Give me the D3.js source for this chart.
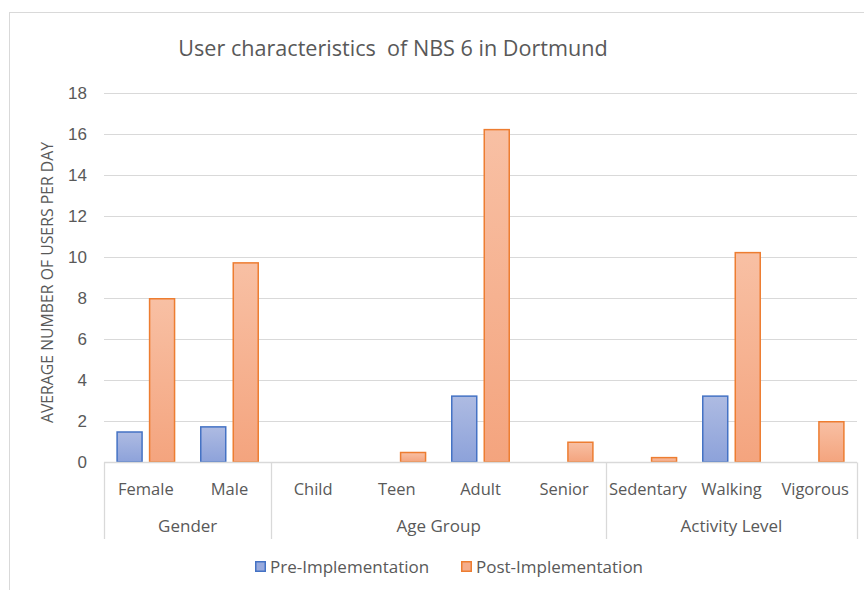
<!DOCTYPE html>
<html>
<head>
<meta charset="utf-8">
<script src="https://cdn.jsdelivr.net/npm/d3@7"></script>
<style>
  body { margin: 0; background: #fff; }
  svg { font-family: "Open Sans", "Noto Sans", sans-serif; }
</style>
</head>
<body>
<div id="chart"></div>
<script>
// Chart values
const groups = ["Gender", "Age Group", "Activity Level"];
const groupSizes = [2, 4, 3];
const categories = ["Female", "Male", "Child", "Teen", "Adult", "Senior", "Sedentary", "Walking", "Vigorous"];
const seriesNames = ["Pre-Implementation", "Post-Implementation"];
const preValues = [1.5, 1.75, 0, 0, 3.25, 0, 0, 3.25, 0];
const postValues = [8, 9.75, 0, 0.5, 16.25, 1, 0.25, 10.25, 2];
const yTicks = [0, 2, 4, 6, 8, 10, 12, 14, 16, 18];

const width = 864, height = 590;
const plot = { left: 104, right: 857, top: 93, bottom: 462 };

const svg = d3.select("#chart").append("svg")
  .attr("width", width)
  .attr("height", height);

// gradients like the office chart fills
const defs = svg.append("defs");
const grads = [
  { id: "gPre", top: "#aebbe2", bottom: "#8da2da" },
  { id: "gPost", top: "#f8c0a4", bottom: "#f4a47e" }
];
grads.forEach(g => {
  const lg = defs.append("linearGradient").attr("id", g.id)
    .attr("x1", 0).attr("y1", 0).attr("x2", 0).attr("y2", 1);
  lg.append("stop").attr("offset", "0%").attr("stop-color", g.top);
  lg.append("stop").attr("offset", "100%").attr("stop-color", g.bottom);
});
const fills = ["url(#gPre)", "url(#gPost)"];
const strokes = ["#4472c4", "#ed7d31"];
const legendFills = ["#98aadd", "#f5ad8b"];

// outer frame (cut off at right and bottom in the reference)
svg.append("rect")
  .attr("x", 9.5).attr("y", 12.5)
  .attr("width", 900).attr("height", 620)
  .attr("fill", "none").attr("stroke", "#d9d9d9");

// title
svg.append("text")
  .attr("x", 393).attr("y", 56)
  .attr("text-anchor", "middle")
  .attr("fill", "#595959")
  .style("font-size", "21.6px")
  .style("white-space", "pre")
  .text("User characteristics  of NBS 6 in Dortmund");

// scales
const y = d3.scaleLinear().domain([0, 18]).range([plot.bottom, plot.top]);
const x0 = d3.scaleBand().domain(categories).range([plot.left, plot.right]);
const x1 = d3.scaleBand().domain(seriesNames).range([0, x0.bandwidth()])
  .paddingInner(0.185).paddingOuter(0.38);

// gridlines
svg.append("g")
  .selectAll("line")
  .data(yTicks.filter(t => t > 0))
  .enter().append("line")
  .attr("x1", plot.left).attr("x2", plot.right)
  .attr("y1", d => y(d) + 0.5).attr("y2", d => y(d) + 0.5)
  .attr("stroke", "#d9d9d9").attr("stroke-width", 1.2);

// y axis labels
const yAxis = svg.append("g")
  .attr("transform", `translate(${plot.left - 17},0)`)
  .call(d3.axisLeft(y).tickValues(yTicks).tickSize(0).tickPadding(0));
yAxis.select(".domain").remove();
yAxis.selectAll("text")
  .attr("fill", "#595959")
  .style("font-size", "17px")
  .attr("dy", "0.35em");

// y axis title
svg.append("text")
  .attr("transform", `translate(53,${(plot.top + plot.bottom) / 2 + 5}) rotate(-90)`)
  .attr("text-anchor", "middle")
  .attr("fill", "#595959")
  .style("font-size", "15.8px")
  .text("AVERAGE NUMBER OF USERS PER DAY");

// bars
const rows = categories.map((c, i) => ({ cat: c, vals: [preValues[i], postValues[i]] }));
const catG = svg.append("g").selectAll("g")
  .data(rows)
  .enter().append("g")
  .attr("transform", d => `translate(${x0(d.cat)},0)`);

catG.selectAll("rect")
  .data(d => d.vals.map((v, k) => ({ v, k })).filter(e => e.v > 0))
  .enter().append("rect")
  .attr("x", d => x1(seriesNames[d.k]) + 0.75)
  .attr("y", d => y(d.v) + 0.75)
  .attr("width", x1.bandwidth() - 1.5)
  .attr("height", d => y(0) - y(d.v) - 0.75)
  .attr("fill", d => fills[d.k])
  .attr("stroke", d => strokes[d.k])
  .attr("stroke-width", 1.5);

// category axis: baseline, separators, labels
const axisY = plot.bottom + 0.5;
const lineColor = "#d9d9d9";
svg.append("line")
  .attr("x1", plot.left).attr("x2", plot.right)
  .attr("y1", axisY).attr("y2", axisY)
  .attr("stroke", lineColor).attr("stroke-width", 1.3);

// group boundaries
let idx = 0;
const bounds = [plot.left];
groupSizes.forEach(n => {
  idx += n;
  bounds.push(idx < categories.length ? x0(categories[idx]) : plot.right);
});
svg.append("g").selectAll("line")
  .data(bounds)
  .enter().append("line")
  .attr("x1", d => Math.round(d) + 0.5).attr("x2", d => Math.round(d) + 0.5)
  .attr("y1", axisY).attr("y2", 539)
  .attr("stroke", lineColor).attr("stroke-width", 1.3);

svg.append("g").selectAll("text")
  .data(categories)
  .enter().append("text")
  .attr("x", d => x0(d) + x0.bandwidth() / 2)
  .attr("y", 495)
  .attr("text-anchor", "middle")
  .attr("fill", "#595959")
  .style("font-size", "16.5px")
  .text(d => d);

svg.append("g").selectAll("text")
  .data(groups)
  .enter().append("text")
  .attr("x", (d, i) => (bounds[i] + bounds[i + 1]) / 2)
  .attr("y", 532)
  .attr("text-anchor", "middle")
  .attr("fill", "#595959")
  .style("font-size", "17px")
  .text(d => d);

// legend
const legendX = [255, 461];
const legend = svg.append("g").selectAll("g")
  .data(seriesNames)
  .enter().append("g")
  .attr("transform", (d, i) => `translate(${legendX[i]},561)`);
legend.append("rect")
  .attr("x", 0.75).attr("y", 0.75)
  .attr("width", 9.5).attr("height", 9.5)
  .attr("fill", (d, i) => legendFills[i])
  .attr("stroke", (d, i) => strokes[i])
  .attr("stroke-width", 1.5);
legend.append("text")
  .attr("x", 15).attr("y", 12)
  .attr("fill", "#595959")
  .style("font-size", "17px")
  .text(d => d);
</script>
</body>
</html>
